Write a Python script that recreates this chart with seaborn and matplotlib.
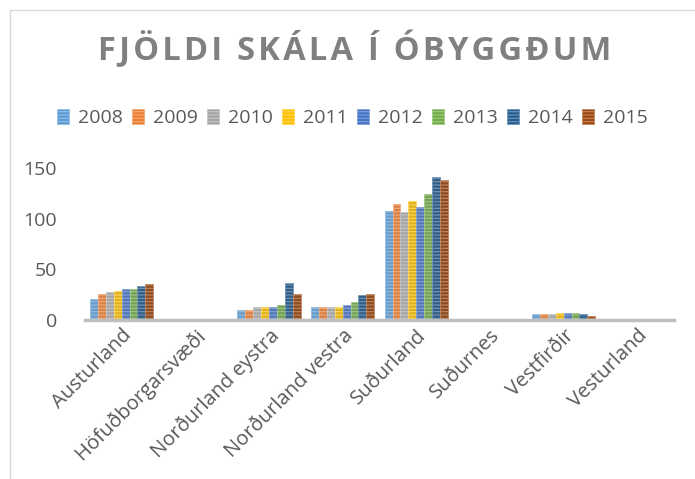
import pandas as pd
import numpy as np
import matplotlib
matplotlib.use('Agg')
import matplotlib.pyplot as plt
import matplotlib.colors as mcolors
from matplotlib.lines import Line2D
import seaborn as sns

# data
regions = ['Austurland', 'Höfuðborgarsvæði', 'Norðurland eystra', 'Norðurland vestra',
           'Suðurland', 'Suðurnes', 'Vestfirðir', 'Vesturland']
years = ['2008', '2009', '2010', '2011', '2012', '2013', '2014', '2015']
v2008 = [21, 0, 10, 13, 108, 0, 6, 0]
v2009 = [26, 0, 10, 13, 115, 0, 6, 0]
v2010 = [28, 0, 13, 13, 107, 0, 6, 0]
v2011 = [29, 0, 13, 13, 118, 0, 7, 0]
v2012 = [31, 0, 13, 15, 112, 0, 7, 0]
v2013 = [31, 0, 15, 18, 124, 0, 7, 0]
v2014 = [34, 0, 37, 25, 141, 0, 6, 0]
v2015 = [36, 0, 26, 26, 138, 0, 4, 0]
colors = ['#5B9BD5', '#ED7D31', '#A5A5A5', '#FFC000', '#4472C4', '#70AD47', '#255E91', '#9E480E']

series = [v2008, v2009, v2010, v2011, v2012, v2013, v2014, v2015]
rows = []
for yr, vals in zip(years, series):
    for reg, v in zip(regions, vals):
        rows.append({'Svæði': reg, 'Ár': yr, 'Fjöldi': v})
df = pd.DataFrame(rows)

sns.set_style('white')
plt.rcParams['font.family'] = ['Open Sans', 'DejaVu Sans']
plt.rcParams['hatch.linewidth'] = 0.8

txt = '#595959'

def lighter(c, f=0.35):
    r = np.array(mcolors.to_rgb(c))
    return tuple(r + (1 - r) * f)

fig = plt.figure(figsize=(6.95, 4.79), dpi=100)
ax = fig.add_axes([0.122, 0.332, 0.848, 0.317])

sns.barplot(data=df, x='Svæði', y='Fjöldi', hue='Ár', hue_order=years,
            palette=colors, width=0.86, ax=ax, legend=False, errorbar=None)

# striped look of the bars
for i, cont in enumerate(ax.containers):
    for p in cont.patches:
        p.set_hatch('-----')
        p.set_edgecolor(lighter(colors[i]))
        p.set_linewidth(0.6)

ax.set_ylim(0, 150)
ax.set_yticks([0, 50, 100, 150])
ax.set_xlabel('')
ax.set_ylabel('')
for s in ['top', 'right', 'left']:
    ax.spines[s].set_visible(False)
ax.spines['bottom'].set_color('#BFBFBF')
ax.spines['bottom'].set_linewidth(2.5)
ax.tick_params(axis='y', length=0, pad=20, labelsize=14, labelcolor=txt)
ax.tick_params(axis='x', length=0, pad=4, labelsize=14.5, labelcolor=txt)
plt.setp(ax.get_xticklabels(), rotation=45, ha='right', rotation_mode='anchor')

# legend
handles = [plt.Rectangle((0, 0), 1, 1, facecolor=c, edgecolor=lighter(c), hatch='-----', linewidth=0.6)
           for c in colors]
fig.legend(handles, years, loc='center', bbox_to_anchor=(0.507, 0.754), ncol=8, frameon=False,
           fontsize=14, labelcolor=txt, handlelength=0.6, handleheight=0.85,
           handletextpad=0.45, columnspacing=0.5)

# title with letter spacing
title = 'FJÖLDI SKÁLA Í ÓBYGGÐUM'
spaced = '\u200a'.join(title).replace('\u200a \u200a', ' \u2009')
fig.text(0.51, 0.896, spaced, ha='center', va='center', fontsize=23.5, fontweight='bold', color='#808080')

# chart frame
fig.add_artist(Line2D([10 / 695, 10 / 695], [0, 1 - 10 / 479], color='#D9D9D9', lw=1))
fig.add_artist(Line2D([10 / 695, 1], [1 - 10 / 479, 1 - 10 / 479], color='#D9D9D9', lw=1))

fig.savefig('out.png', dpi=100)
